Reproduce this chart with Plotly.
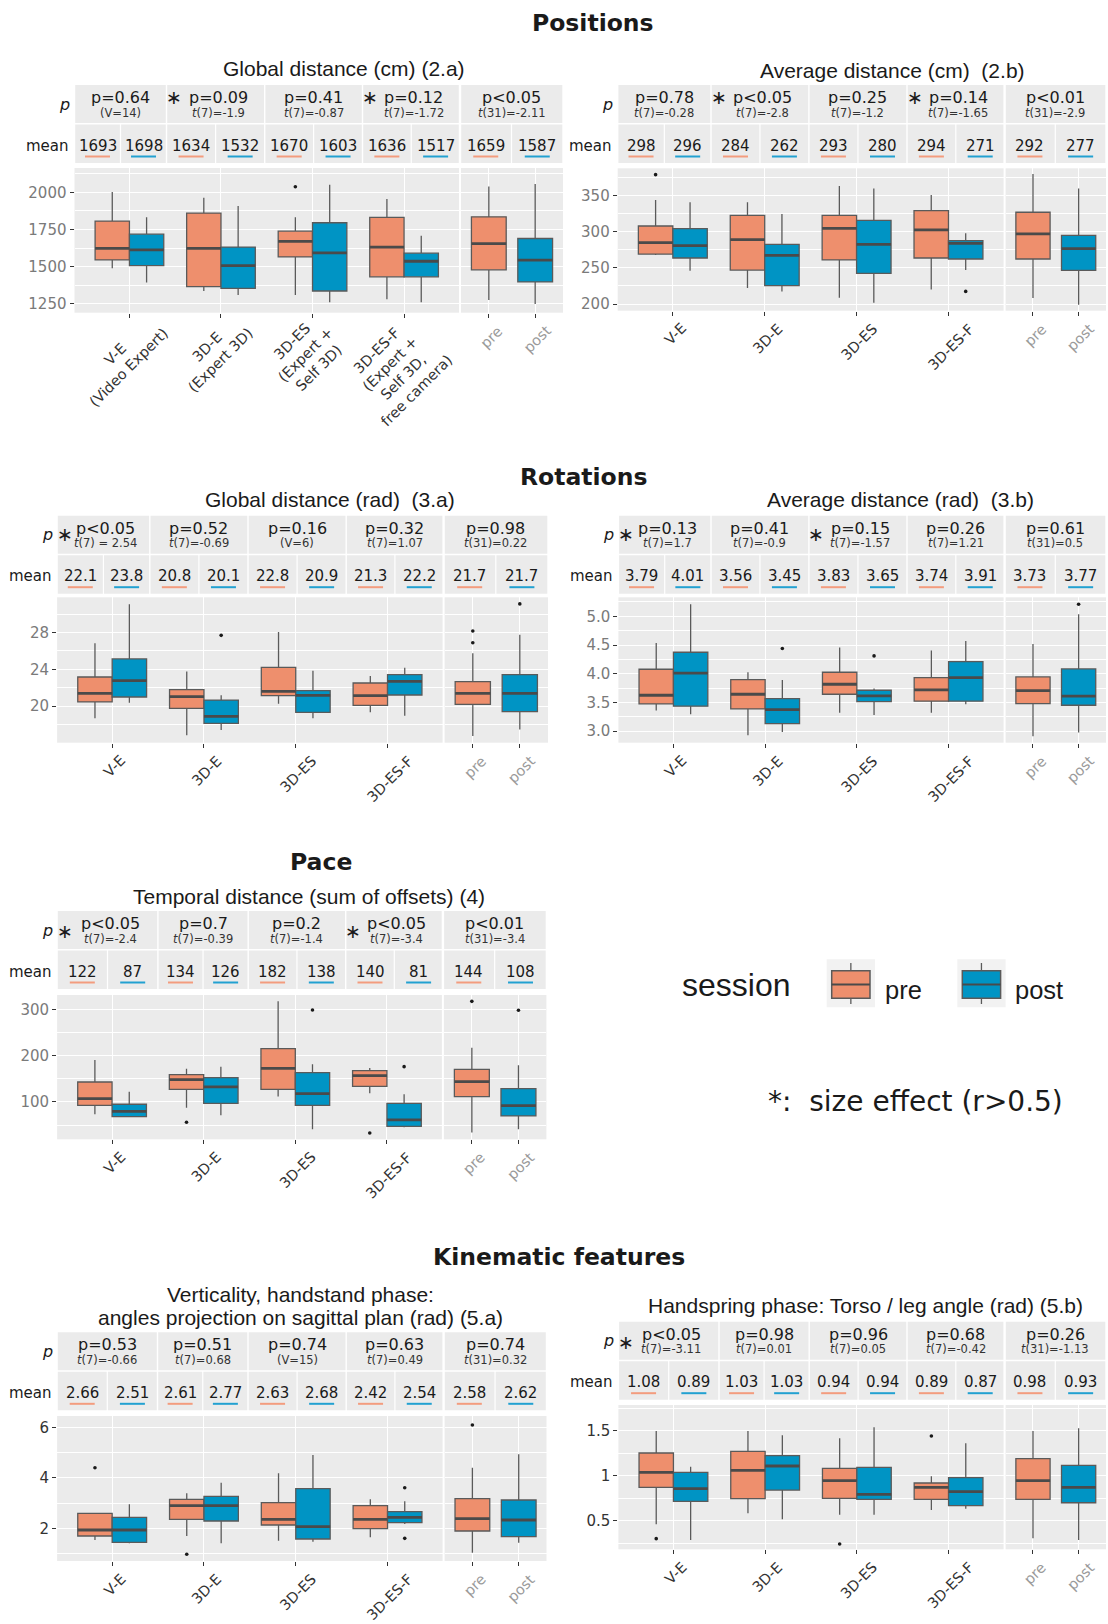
import plotly.graph_objects as go

# ------------------------------------------------------------------ data
conditions = ["V-E", "3D-E", "3D-ES", "3D-ES-F"]
conditions_long = [
    "V-E<br>(Video Expert)",
    "3D-E<br>(Expert 3D)",
    "3D-ES<br>(Expert +<br>Self 3D)",
    "3D-ES-F<br>(Expert +<br>Self 3D,<br>free camera)",
]
sessions = ["pre", "post"]

# Box statistics, one tuple per group: V-E, 3D-E, 3D-ES, 3D-ES-F, then all
# conditions pooled.  Tuple = (lower whisker, Q1, median, Q3, upper whisker).
# Outliers are (group index, value).

# 2.a  Positions, global distance (cm)
pos_global_pre = [(1490, 1546, 1623, 1807, 2002), (1337, 1367, 1623, 1861, 1964),
                  (1310, 1566, 1670, 1739, 1832), (1281, 1432, 1632, 1832, 1955),
                  (1277, 1479, 1656, 1836, 2040)]
pos_global_post = [(1394, 1508, 1614, 1719, 1832), (1310, 1355, 1508, 1632, 1908),
                   (1261, 1337, 1593, 1796, 2052), (1261, 1432, 1537, 1591, 1708),
                   (1250, 1398, 1544, 1690, 2056)]
pos_global_out_pre = [(2, 2038)]
pos_global_out_post = []
pos_global_p = ["p=0.64", "p=0.09", "p=0.41", "p=0.12", "p<0.05"]
pos_global_test = ["(V=14)", "t(7)=-1.9", "t(7)=-0.87", "t(7)=-1.72", "t(31)=-2.11"]
pos_global_effect = [False, True, False, True, False]
pos_global_mean_pre = [1693, 1634, 1670, 1636, 1659]
pos_global_mean_post = [1698, 1532, 1603, 1517, 1587]

# 2.b  Positions, average distance (cm)
pos_avg_pre = [(267.8, 269.2, 285, 308, 344), (222.2, 247, 289, 322.8, 340.8),
               (208.8, 261, 304.8, 322.8, 363.4), (220.3, 263.7, 302.5, 329.2, 351),
               (208.3, 262.3, 297, 327, 380)]
pos_avg_post = [(246, 263.7, 280.8, 304.3, 340.8), (217.5, 225.4, 267.4, 282.6, 324.6),
                (201.9, 242.5, 282.6, 315.8, 359.7), (247, 262.3, 284, 287.7, 297.8),
                (199, 246.6, 276.6, 295, 359.7)]
pos_avg_out_pre = [(0, 379)]
pos_avg_out_post = [(3, 217.5)]
pos_avg_p = ["p=0.78", "p<0.05", "p=0.25", "p=0.14", "p<0.01"]
pos_avg_test = ["t(7)=-0.28", "t(7)=-2.8", "t(7)=-1.2", "t(7)=-1.65", "t(31)=-2.9"]
pos_avg_effect = [False, True, False, True, False]
pos_avg_mean_pre = [298, 284, 293, 294, 292]
pos_avg_mean_post = [296, 262, 280, 271, 277]

# 3.a  Rotations, global distance (rad)
rot_global_pre = [(18.66, 20.44, 21.38, 23.16, 26.84), (16.8, 19.75, 21.02, 21.78, 23.75),
                  (20.25, 21.13, 21.6, 24.22, 28.07), (19.31, 20.07, 21.13, 22.51, 23.27),
                  (16.73, 20.18, 21.38, 22.65, 25.75)]
rot_global_post = [(20.36, 20.98, 22.76, 25.13, 31.09), (17.38, 18.11, 18.87, 20.65, 21.16),
                   (18.66, 19.31, 21.16, 21.67, 23.85), (18.95, 21.2, 22.69, 23.42, 24.18),
                   (17.45, 19.38, 21.38, 23.42, 27.78)]
rot_global_out_pre = [(4, 28.18), (4, 26.9)]
rot_global_out_post = [(1, 27.7), (4, 31.13)]
rot_global_p = ["p<0.05", "p=0.52", "p=0.16", "p=0.32", "p=0.98"]
rot_global_test = ["t(7) = 2.54", "t(7)=-0.69", "(V=6)", "t(7)=1.07", "t(31)=0.22"]
rot_global_effect = [True, False, False, False, False]
rot_global_mean_pre = [22.1, 20.8, 22.8, 21.3, 21.7]
rot_global_mean_post = [23.8, 20.1, 20.9, 22.2, 21.7]

# 3.b  Rotations, average distance (rad)
rot_avg_pre = [(3.36, 3.475, 3.626, 4.078, 4.536), (2.93, 3.388, 3.643, 3.899, 4.026),
               (3.319, 3.643, 3.817, 4.026, 4.455), (3.319, 3.522, 3.719, 3.933, 4.403),
               (2.913, 3.481, 3.707, 3.945, 4.519)]
rot_avg_post = [(3.296, 3.435, 4.009, 4.374, 5.21), (2.988, 3.133, 3.377, 3.568, 3.893),
                (3.284, 3.516, 3.614, 3.713, 3.742), (3.47, 3.522, 3.933, 4.212, 4.571),
                (2.977, 3.452, 3.609, 4.084, 5.035)]
rot_avg_out_pre = []
rot_avg_out_post = [(1, 4.438), (2, 4.31), (4, 5.21)]
rot_avg_p = ["p=0.13", "p=0.41", "p=0.15", "p=0.26", "p=0.61"]
rot_avg_test = ["t(7)=1.7", "t(7)=-0.9", "t(7)=-1.57", "t(7)=1.21", "t(31)=0.5"]
rot_avg_effect = [True, False, True, False, False]
rot_avg_mean_pre = [3.79, 3.56, 3.83, 3.74, 3.73]
rot_avg_mean_post = [4.01, 3.45, 3.65, 3.91, 3.77]

# 4  Pace, temporal distance (sum of offsets)
pace_pre = [(73.3, 92.8, 107.2, 143.3, 191), (87.7, 127.4, 148.4, 159.2, 172.2),
            (111.6, 127.4, 172.9, 215.5, 318), (118.8, 133.9, 157, 167.9, 173.6),
            (33.6, 111.6, 144, 170.8, 217.7)]
pace_post = [(66.8, 68.2, 79.8, 95, 122.4), (71.1, 97.1, 132.5, 152.7, 176.5),
             (40.8, 92.8, 118, 163.5, 181.6), (45.1, 47.3, 61, 97.1, 116.6),
             (40.8, 69.7, 92.1, 128.9, 179.4)]
pace_out_pre = [(1, 56), (3, 32.9), (4, 318)]
pace_out_post = [(2, 299.3), (3, 176.5), (4, 298.6)]
pace_p = ["p<0.05", "p=0.7", "p=0.2", "p<0.05", "p<0.01"]
pace_test = ["t(7)=-2.4", "t(7)=-0.39", "t(7)=-1.4", "t(7)=-3.4", "t(31)=-3.4"]
pace_effect = [True, False, False, True, False]
pace_mean_pre = [122, 134, 182, 140, 144]
pace_mean_post = [87, 126, 138, 81, 108]

# 5.a  Verticality, handstand phase (rad)
vert_pre = [(1.538, 1.697, 1.934, 2.594, 2.594), (1.697, 2.357, 2.898, 3.149, 3.386),
            (1.512, 2.132, 2.357, 3.017, 4.18), (1.644, 1.987, 2.357, 2.898, 3.149),
            (1.037, 1.894, 2.383, 3.175, 4.40)]
vert_post = [(1.406, 1.446, 1.934, 2.436, 2.95), (1.406, 2.29, 2.898, 3.268, 3.81),
             (1.472, 1.578, 2.066, 3.571, 4.904), (2.172, 2.225, 2.436, 2.66, 3.07),
             (1.433, 1.67, 2.33, 3.122, 4.93)]
vert_out_pre = [(0, 4.40), (1, 0.971), (4, 6.09)]
vert_out_post = [(3, 3.61), (3, 1.604)]
vert_p = ["p=0.53", "p=0.51", "p=0.74", "p=0.63", "p=0.74"]
vert_test = ["t(7)=-0.66", "t(7)=0.68", "(V=15)", "t(7)=0.49", "t(31)=0.32"]
vert_effect = [False, False, False, False, False]
vert_mean_pre = [2.66, 2.61, 2.63, 2.42, 2.58]
vert_mean_post = [2.51, 2.77, 2.68, 2.54, 2.62]

# 5.b  Handspring phase, torso / leg angle (rad)
torso_pre = [(0.46, 0.871, 1.037, 1.252, 1.496), (0.582, 0.745, 1.06, 1.271, 1.496),
             (0.567, 0.749, 0.945, 1.082, 1.415), (0.619, 0.738, 0.871, 0.919, 0.993),
             (0.305, 0.738, 0.945, 1.189, 1.496)]
torso_post = [(0.286, 0.716, 0.856, 1.037, 1.10), (0.516, 0.841, 1.108, 1.223, 1.448),
              (0.567, 0.738, 0.793, 1.093, 1.537), (0.634, 0.667, 0.823, 0.978, 1.359),
              (0.286, 0.70, 0.871, 1.115, 1.526)]
torso_out_pre = [(0, 0.301), (2, 0.242), (3, 1.441)]
torso_out_post = []
torso_p = ["p<0.05", "p=0.98", "p=0.96", "p=0.68", "p=0.26"]
torso_test = ["t(7)=-3.11", "t(7)=0.01", "t(7)=0.05", "t(7)=-0.42", "t(31)=-1.13"]
torso_effect = [True, False, False, False, False]
torso_mean_pre = [1.08, 1.03, 0.94, 0.89, 0.98]
torso_mean_post = [0.89, 1.03, 0.94, 0.87, 0.93]

# ------------------------------------------------------------------ style
W, H = 1108, 1624
PRE_FILL = "#EE8F6D"
POST_FILL = "#0094C4"
PRE_MARK = "#F39C7E"
POST_MARK = "#22A1D1"
EDGE = "#5A5A5A"
MEDIAN = "#4A4A4A"
PANEL_BG = "#EBEBEB"
INK = "#1A1A1A"
SANS = "DejaVu Sans"
ARIAL = "Liberation Sans"

# panel geometry (pixels): strip column edges, strip top, plot top/bottom
PANELS = [
    dict(title=["Global distance (cm) (2.a)"], title_xy=(344, [68]),
         cols=[74.5, 166.5, 264.7, 362.5, 460, 563], top=85, plot=(168, 312.7),
         yrange=[1191, 2164], yticks=[1250, 1500, 1750, 2000], yminor=[1375, 1625, 1875, 2125],
         ytext=None, ycolor="#7A7A7A", long=True, star_dy=12, dec=0,
         pre=pos_global_pre, post=pos_global_post, out_pre=pos_global_out_pre,
         out_post=pos_global_out_post, p=pos_global_p, test=pos_global_test,
         effect=pos_global_effect, mpre=pos_global_mean_pre, mpost=pos_global_mean_post),
    dict(title=["Average distance (cm)  (2.b)"], title_xy=(892, [70]),
         cols=[617.7, 711, 808.9, 907, 1004.6, 1106], top=85, plot=(168.3, 310.7),
         yrange=[190.8, 387.8], yticks=[200, 250, 300, 350], yminor=[225, 275, 325, 375],
         ytext=None, ycolor="#7A7A7A", long=False, star_dy=12, dec=0,
         pre=pos_avg_pre, post=pos_avg_post, out_pre=pos_avg_out_pre,
         out_post=pos_avg_out_post, p=pos_avg_p, test=pos_avg_test,
         effect=pos_avg_effect, mpre=pos_avg_mean_pre, mpost=pos_avg_mean_post),
    dict(title=["Global distance (rad)  (3.a)"], title_xy=(330, [499.3]),
         cols=[57.1, 149.8, 248, 346.2, 443.6, 548], top=515.7, plot=(597.3, 742.7),
         yrange=[16.0, 31.85], yticks=[20, 24, 28], yminor=[18, 22, 26, 30],
         ytext=None, ycolor="#7A7A7A", long=False, star_dy=18.5, dec=1,
         pre=rot_global_pre, post=rot_global_post, out_pre=rot_global_out_pre,
         out_post=rot_global_out_post, p=rot_global_p, test=rot_global_test,
         effect=rot_global_effect, mpre=rot_global_mean_pre, mpost=rot_global_mean_post),
    dict(title=["Average distance (rad)  (3.b)"], title_xy=(900.4, [499.3]),
         cols=[618.4, 711, 808.9, 907, 1004.6, 1106], top=515.7, plot=(597.3, 742.7),
         yrange=[2.80, 5.33], yticks=[3.0, 3.5, 4.0, 4.5, 5.0], yminor=[3.25, 3.75, 4.25, 4.75, 5.25],
         ytext=["3.0", "3.5", "4.0", "4.5", "5.0"], ycolor="#7A7A7A", long=False, star_dy=18.5, dec=2,
         pre=rot_avg_pre, post=rot_avg_post, out_pre=rot_avg_out_pre,
         out_post=rot_avg_out_post, p=rot_avg_p, test=rot_avg_test,
         effect=rot_avg_effect, mpre=rot_avg_mean_pre, mpost=rot_avg_mean_post),
    dict(title=["Temporal distance (sum of offsets) (4)"], title_xy=(309.4, [896]),
         cols=[57.1, 157.9, 248.2, 345.7, 442.9, 546.4], top=911, plot=(995, 1139.3),
         yrange=[19.1, 331.8], yticks=[100, 200, 300], yminor=[50, 150, 250],
         ytext=None, ycolor="#7A7A7A", long=False, star_dy=20, dec=0,
         pre=pace_pre, post=pace_post, out_pre=pace_out_pre,
         out_post=pace_out_post, p=pace_p, test=pace_test,
         effect=pace_effect, mpre=pace_mean_pre, mpost=pace_mean_post),
    dict(title=["Verticality, handstand phase:",
                "angles projection on sagittal plan (rad) (5.a)"],
         title_xy=(300.4, [1294, 1317.3]),
         cols=[57.1, 157.5, 248, 346.2, 443.6, 546.5], top=1332.3, plot=(1416, 1561),
         yrange=[0.706, 6.449], yticks=[2, 4, 6], yminor=[1, 3, 5],
         ytext=None, ycolor="#333333", long=False, star_dy=19, dec=2,
         pre=vert_pre, post=vert_post, out_pre=vert_out_pre,
         out_post=vert_out_post, p=vert_p, test=vert_test,
         effect=vert_effect, mpre=vert_mean_pre, mpost=vert_mean_post),
    dict(title=["Handspring phase: Torso / leg angle (rad) (5.b)"], title_xy=(865.8, [1305.7]),
         cols=[618.4, 719, 809.2, 907, 1004.6, 1106], top=1321.7, plot=(1405, 1549.3),
         yrange=[0.183, 1.785], yticks=[0.5, 1, 1.5], yminor=[0.25, 0.75, 1.25, 1.75],
         ytext=["0.5", "1", "1.5"], ycolor="#333333", long=False, star_dy=20, dec=2,
         pre=torso_pre, post=torso_post, out_pre=torso_out_pre,
         out_post=torso_out_post, p=torso_p, test=torso_test,
         effect=torso_effect, mpre=torso_mean_pre, mpost=torso_mean_post),
]

SECTIONS = [("Positions", 593, 23), ("Rotations", 583, 476.5),
            ("Pace", 321, 862), ("Kinematic features", 559, 1256.5)]


def fx(px):
    return px / W


def fy(py):
    return 1.0 - py / H


shapes, annotations, axes = [], [], {}


def add_text(x, y, s, size, color=INK, family=SANS, xanchor="center", yanchor="middle"):
    annotations.append(dict(xref="paper", yref="paper", x=fx(x), y=fy(y), text=s,
                            showarrow=False, xanchor=xanchor, yanchor=yanchor,
                            font=dict(family=family, size=size, color=color)))


def add_rect(x0, y0, x1, y1, fill, line_color=None, line_width=0):
    shapes.append(dict(type="rect", xref="paper", yref="paper",
                       x0=fx(x0), x1=fx(x1), y0=fy(y1), y1=fy(y0), fillcolor=fill,
                       line=dict(color=line_color or fill, width=line_width)))


def add_line(x0, y0, x1, y1, color, width):
    shapes.append(dict(type="line", xref="paper", yref="paper",
                       x0=fx(x0), x1=fx(x1), y0=fy(y0), y1=fy(y1),
                       line=dict(color=color, width=width)))


def add_category_labels(xref, labels, color, plot_bottom, size, dx=2.5, dy=-7):
    # rotated category labels hanging below the facet, centred on each tick
    for j, lab in enumerate(labels):
        annotations.append(dict(xref=xref, yref="paper", x=j + 1, y=fy(plot_bottom),
                                text=lab, textangle=-45, xanchor="center", yanchor="top",
                                xshift=dx, yshift=dy, align="center", showarrow=False,
                                font=dict(family=SANS, size=size, color=color)))


def italic_t(s):
    return "<i>t</i>" + s[1:] if s.startswith("t(") else s


def ax_key(k, letter):
    return f"{letter}axis" if k == 1 else f"{letter}axis{k}"


def ax_ref(k, letter):
    return letter if k == 1 else f"{letter}{k}"


fig = go.Figure()

for i, P in enumerate(PANELS):
    cols = P["cols"]
    top = P["top"]
    ptop, pbot = P["plot"]
    kl, kr = 2 * i + 1, 2 * i + 2
    ydom = [fy(pbot), fy(ptop)]

    # ---- facet axes
    common_x = dict(showgrid=True, gridcolor="white", gridwidth=1.3, zeroline=False,
                    ticks="outside", ticklen=4, tickwidth=1, tickcolor="#333333",
                    showticklabels=False, showline=False, fixedrange=True, automargin=False)
    axes[ax_key(kl, "x")] = dict(common_x, domain=[fx(cols[0]), fx(cols[4] - 1)],
                                 anchor=ax_ref(kl, "y"), range=[0.4, 4.6],
                                 tickvals=[1, 2, 3, 4])
    axes[ax_key(kr, "x")] = dict(common_x, domain=[fx(cols[4] + 1), fx(cols[5])],
                                 anchor=ax_ref(kr, "y"), range=[0.4, 2.6],
                                 tickvals=[1, 2])
    if P["long"]:
        add_category_labels(ax_ref(kl, "x"), conditions_long, "#333333", pbot, 14.5,
                            dx=-7, dy=4)
    else:
        add_category_labels(ax_ref(kl, "x"), conditions, "#333333", pbot, 14.5)
    add_category_labels(ax_ref(kr, "x"), sessions, "#9A9A9A", pbot, 14.5)

    common_y = dict(domain=ydom, range=P["yrange"], showgrid=True, gridcolor="white",
                    gridwidth=1.3, zeroline=False, showline=False, fixedrange=True,
                    automargin=False,
                    minor=dict(tickmode="array", tickvals=P["yminor"], showgrid=True,
                               gridcolor="white", gridwidth=0.6, ticks=""))
    yl = dict(common_y, anchor=ax_ref(kl, "x"), tickvals=P["yticks"], ticks="outside",
              ticklen=4, tickwidth=1, tickcolor="#333333",
              tickfont=dict(family=SANS, size=15, color=P["ycolor"]))
    if P["ytext"]:
        yl["ticktext"] = P["ytext"]
    axes[ax_key(kl, "y")] = yl
    axes[ax_key(kr, "y")] = dict(common_y, anchor=ax_ref(kr, "x"), tickvals=P["yticks"],
                                 showticklabels=False, ticks="")

    # ---- boxes
    groups = [(P["pre"], P["out_pre"], PRE_FILL, -1), (P["post"], P["out_post"], POST_FILL, 1)]
    for s_idx, (stats, outs, fill, side) in enumerate(groups):
        for facet, k in (("cond", kl), ("pool", kr)):
            if facet == "cond":
                half = 0.1875
                xs = [c + 1 + side * half for c in range(4)]
                st = stats[:4]
            else:
                half = 0.375
                xs = [s_idx + 1]
                st = stats[4:]
            fig.add_trace(go.Box(
                x=xs, lowerfence=[s[0] for s in st], q1=[s[1] for s in st],
                median=[s[2] for s in st], q3=[s[3] for s in st],
                upperfence=[s[4] for s in st], width=2 * half,
                fillcolor=fill, line=dict(color=EDGE, width=1.3), whiskerwidth=0,
                boxpoints=False, showlegend=False, hoverinfo="skip",
                xaxis=ax_ref(k, "x"), yaxis=ax_ref(k, "y")))
            mx, my = [], []
            for xc, s in zip(xs, st):
                mx += [xc - half, xc + half, None]
                my += [s[2], s[2], None]
            fig.add_trace(go.Scatter(x=mx, y=my, mode="lines",
                                     line=dict(color=MEDIAN, width=2.8),
                                     showlegend=False, hoverinfo="skip",
                                     xaxis=ax_ref(k, "x"), yaxis=ax_ref(k, "y")))
        # outliers
        ox_c, oy_c, ox_p, oy_p = [], [], [], []
        for g, v in outs:
            if g < 4:
                ox_c.append(g + 1 + side * 0.1875)
                oy_c.append(v)
            else:
                ox_p.append(s_idx + 1)
                oy_p.append(v)
        for xs_, ys_, k in ((ox_c, oy_c, kl), (ox_p, oy_p, kr)):
            if xs_:
                fig.add_trace(go.Scatter(x=xs_, y=ys_, mode="markers",
                                         marker=dict(color="#1A1A1A", size=3.6),
                                         showlegend=False, hoverinfo="skip",
                                         xaxis=ax_ref(k, "x"), yaxis=ax_ref(k, "y")))

    # ---- header strips (test result row + mean row)
    p0, p1 = top, top + 38
    m0, m1 = top + 39.5, top + 78
    for c in range(5):
        xa, xb = cols[c], cols[c + 1]
        il = 1.2 if c == 4 else 0.7
        ir = 1.2 if c == 3 else 0.7
        add_rect(xa + il, p0, xb - ir, p1, PANEL_BG)
        xm = (xa + xb) / 2
        add_rect(xa + il, m0, xm - 0.6, m1, PANEL_BG)
        add_rect(xm + 0.6, m0, xb - ir, m1, PANEL_BG)
        nudge = 2.5 if P["effect"][c] else 0
        add_text(xm + nudge, top + 12.3, P["p"][c], 16)
        add_text(xm + nudge, top + 27.5, italic_t(P["test"][c]), 11.5, color="#333333")
        if P["effect"][c]:
            add_text(xa + 7.5, top + P["star_dy"], "∗", 19)
        for xc, val, col in (((xa + xm) / 2, P["mpre"][c], PRE_MARK),
                             ((xm + xb) / 2, P["mpost"][c], POST_MARK)):
            add_text(xc, top + 60.5, f"{val:.{P['dec']}f}", 15)
            add_line(xc - 12.5, top + 71.5, xc + 12.5, top + 71.5, col, 2)
    add_text(cols[0] - 10, top + 19, "<i>p</i>", 16)
    add_text(cols[0] - 3.5, top + 60.5, "mean", 15, xanchor="right")

    for line, ty in zip(P["title"], P["title_xy"][1]):
        add_text(P["title_xy"][0], ty, line, 21, family=ARIAL)

for name, x, y in SECTIONS:
    add_text(x, y, f"<b>{name}</b>", 23.5, color="#1A1A1A")

# ---- session legend
add_text(680, 985, "session", 32, family=ARIAL, xanchor="left")
for (bx0, label_x, fill, label) in ((826.7, 883, PRE_FILL, "pre"),
                                    (957.3, 1013, POST_FILL, "post")):
    add_rect(bx0, 959.3, bx0 + 48.3, 1007.3, "#F2F2F2")
    cx = bx0 + 24.15
    add_line(cx, 963, cx, 971, EDGE, 1.3)
    add_line(cx, 998, cx, 1004, EDGE, 1.3)
    add_rect(bx0 + 5, 970.7, bx0 + 43.3, 998.3, fill, EDGE, 1.5)
    add_line(bx0 + 5, 984.5, bx0 + 43.3, 984.5, MEDIAN, 2.2)
    add_text(label_x, 990, label, 25.5, family=ARIAL, xanchor="left")
add_text(766, 1101.7, "*:\u00a0 size effect (r>0.5)", 28, xanchor="left")

fig.update_layout(
    width=W, height=H, margin=dict(l=0, r=0, t=0, b=0, autoexpand=False),
    paper_bgcolor="white", plot_bgcolor=PANEL_BG,
    showlegend=False, boxmode="overlay",
    font=dict(family=SANS, color=INK),
    shapes=shapes, annotations=annotations, **axes,
)

fig.write_html("out.html")
